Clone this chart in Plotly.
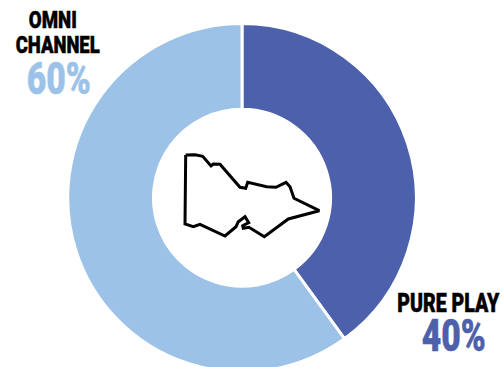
import json
import plotly.graph_objects as go

W, H = 502, 372

channels = ["PURE PLAY", "OMNI CHANNEL"]
shares = [40, 60]
channel_colors = ["#4C60AB", "#9CC2E8"]

# State outline in layout pixels (x right, y down)
outline_x = [185.7, 195, 202.7, 211, 213.3, 220, 240, 245.7, 247.7, 266.7, 276, 286, 290, 294,
             319.3, 288.3, 264.3, 249, 243.3, 242.7, 248.7, 245, 238.3, 236, 225, 200, 193.3, 185, 185.7]
outline_y = [155, 154.7, 156.3, 166, 164, 164.3, 187.3, 188.3, 182.3, 186.7, 187.3, 182.3, 186.7, 198.3,
             210.7, 219, 236.7, 227.3, 228.3, 225.7, 222.7, 216.7, 221.7, 226.7, 236, 224.3, 226.7, 224, 155]

# Label text with its drawn width, used to condense the heading face
label_widths = {"OMNI": 48, "CHANNEL": 84, "60%": 64, "PURE PLAY": 102, "40%": 64}

fig = go.Figure()
fig.add_trace(go.Pie(
    labels=channels,
    values=shares,
    sort=False,
    direction="clockwise",
    rotation=0,
    hole=0.508,
    textinfo="none",
    showlegend=False,
    marker=dict(colors=channel_colors, line=dict(color="white", width=3)),
    domain=dict(x=[67.5 / W, 416.5 / W], y=[0, 1 - 23.5 / H]),
))
fig.add_trace(go.Scatter(
    x=outline_x, y=outline_y, mode="lines", showlegend=False, hoverinfo="skip",
    line=dict(color="black", width=3, shape="linear"),
))


def label(text, x, y, size, color):
    fig.add_annotation(x=x, y=y, xref="x", yref="y", text=text, showarrow=False,
                       font=dict(family="Roboto", size=size, color=color, weight=900))


label("OMNI", 53, 20, 24, "black")
label("CHANNEL", 57, 45, 24, "black")
label("60%", 59, 79, 44, channel_colors[1])
label("PURE PLAY", 448, 303, 25, "black")
label("40%", 454, 336, 44, channel_colors[0])

fig.update_layout(
    width=W, height=H, autosize=False,
    margin=dict(l=0, r=0, t=0, b=0),
    paper_bgcolor="white", plot_bgcolor="rgba(0,0,0,0)",
    xaxis=dict(range=[0, W], visible=False, domain=[0, 1], fixedrange=True),
    yaxis=dict(range=[H, 0], visible=False, domain=[0, 1], fixedrange=True),
)

# Condense and embolden the heading labels; keep the page from scrolling
post = """
document.body.style.overflow='hidden';document.documentElement.style.overflow='hidden';
var widths = %s;
document.querySelectorAll('.annotation-text').forEach(function (t) {
  var w = widths[t.textContent];
  if (w) {
    t.setAttribute('textLength', w);
    t.setAttribute('lengthAdjust', 'spacingAndGlyphs');
    t.style.stroke = t.style.fill;
    t.style.strokeWidth = '0.5px';
  }
});
""" % json.dumps(label_widths)

fig.write_html("out.html", config={"displayModeBar": False}, post_script=post)
